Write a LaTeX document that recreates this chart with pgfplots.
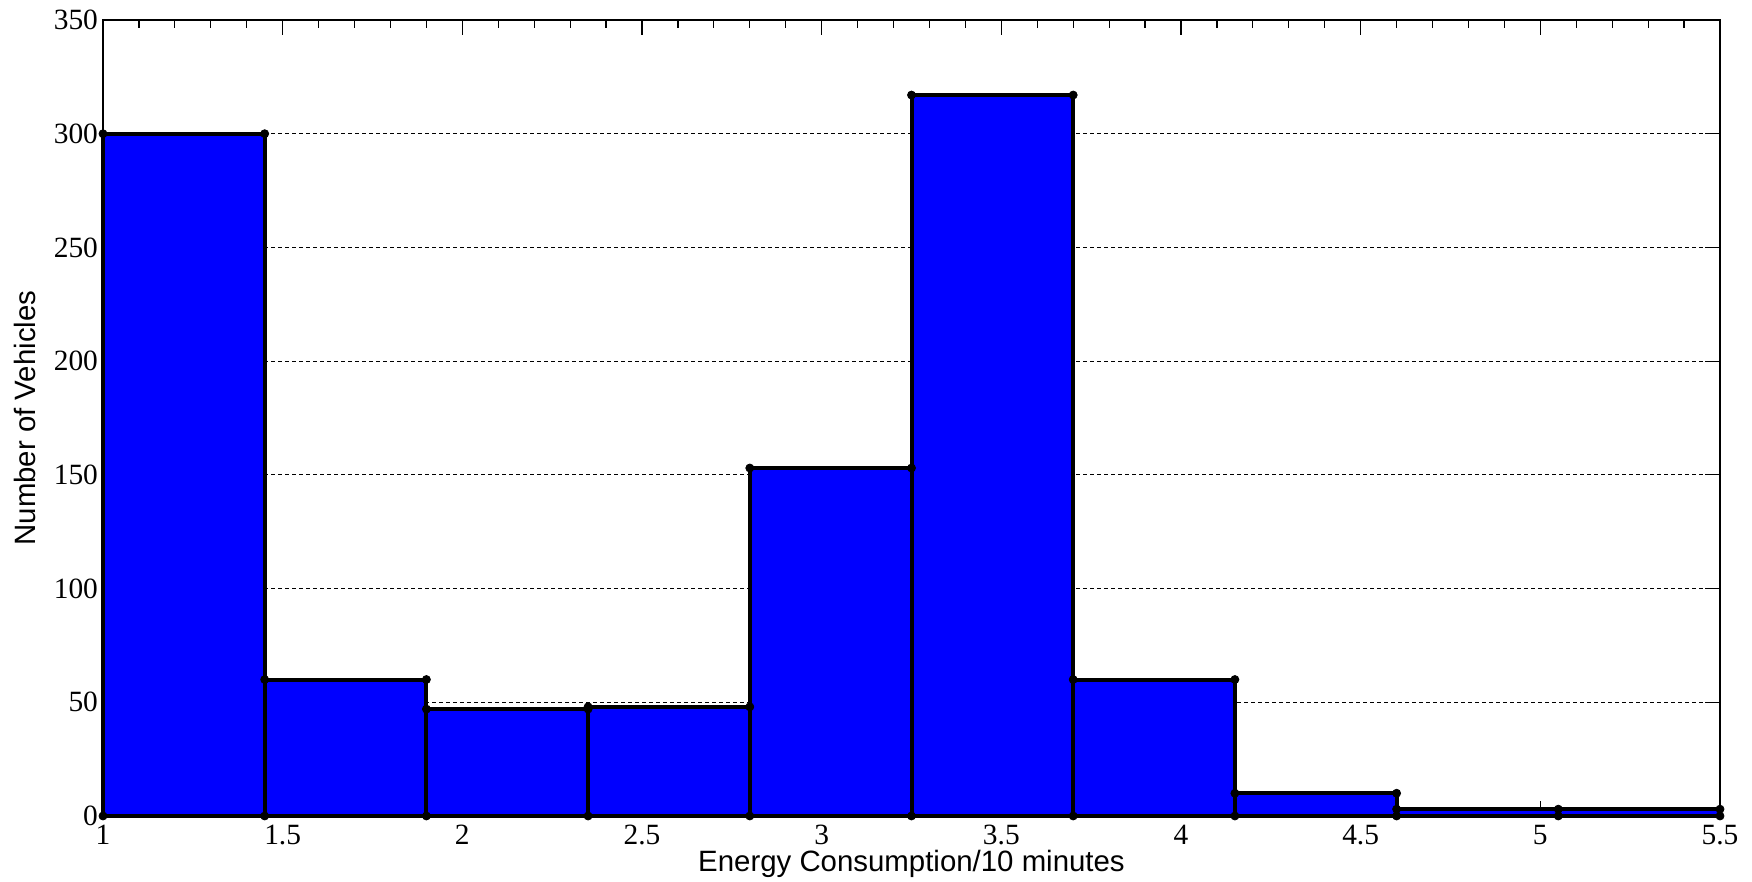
\documentclass[border=0pt]{standalone}
\usepackage{fontspec}
\setmainfont{Liberation Serif}
\newfontfamily\arialf{Liberation Sans}
\usepackage{pgfplots}
\pgfplotsset{compat=1.18}
\begin{document}
\begin{tikzpicture}
\path[use as bounding box] (-51.5pt,-33pt) rectangle (824.5pt,408pt);
\begin{axis}[
  at={(0,0)}, anchor=south west,
  scale only axis, width=808.5pt, height=398pt,
  xmin=1, xmax=5.5, ymin=0, ymax=350,
  xtick={1,1.5,2,2.5,3,3.5,4,4.5,5,5.5},
  minor x tick num=4,
  ytick={0,50,100,150,200,250,300,350},
  tick align=inside,
  major tick length=7.5pt, minor tick length=4pt,
  every tick/.style={black, line width=0.6pt},
  axis line style={black, line width=0.6pt},
  ymajorgrids,
  major grid style={black, line width=0.5pt, dash pattern=on 2pt off 1.5pt},
  clip=false,
  /pgf/number format/assume math mode=true,
  tick label style={font=\fontsize{14.7}{17}\selectfont},
  xticklabel style={yshift=-1pt},
  yticklabel style={xshift=1pt},
  xlabel={Energy Consumption/10 minutes},
  ylabel={Number of Vehicles},
  label style={font=\arialf\fontsize{14.7}{17}\selectfont},
  xlabel style={at={(axis description cs:0.5,-0.0603)}, anchor=center},
  ylabel style={at={(axis description cs:-0.0485,0.5)}, anchor=center},
]
\addplot[ybar interval, fill={rgb,255:red,0;green,0;blue,255}, draw=black, line width=2pt]
  coordinates {(1,300) (1.45,60) (1.9,47) (2.35,48) (2.8,153) (3.25,317) (3.7,60) (4.15,10) (4.6,3) (5.05,3) (5.5,3)};
\addplot[only marks, mark=*, mark size=2pt, black]
  coordinates {(1,0) (1.45,0) (1.9,0) (2.35,0) (2.8,0) (3.25,0) (3.7,0) (4.15,0) (4.6,0) (5.05,0) (5.5,0)
  (1,300) (1.45,300) (1.45,60) (1.9,60) (1.9,47) (2.35,47) (2.35,48) (2.8,48) (2.8,153) (3.25,153)
  (3.25,317) (3.7,317) (3.7,60) (4.15,60) (4.15,10) (4.6,10) (4.6,3) (5.05,3) (5.5,3)};
\end{axis}
\end{tikzpicture}
\end{document}
